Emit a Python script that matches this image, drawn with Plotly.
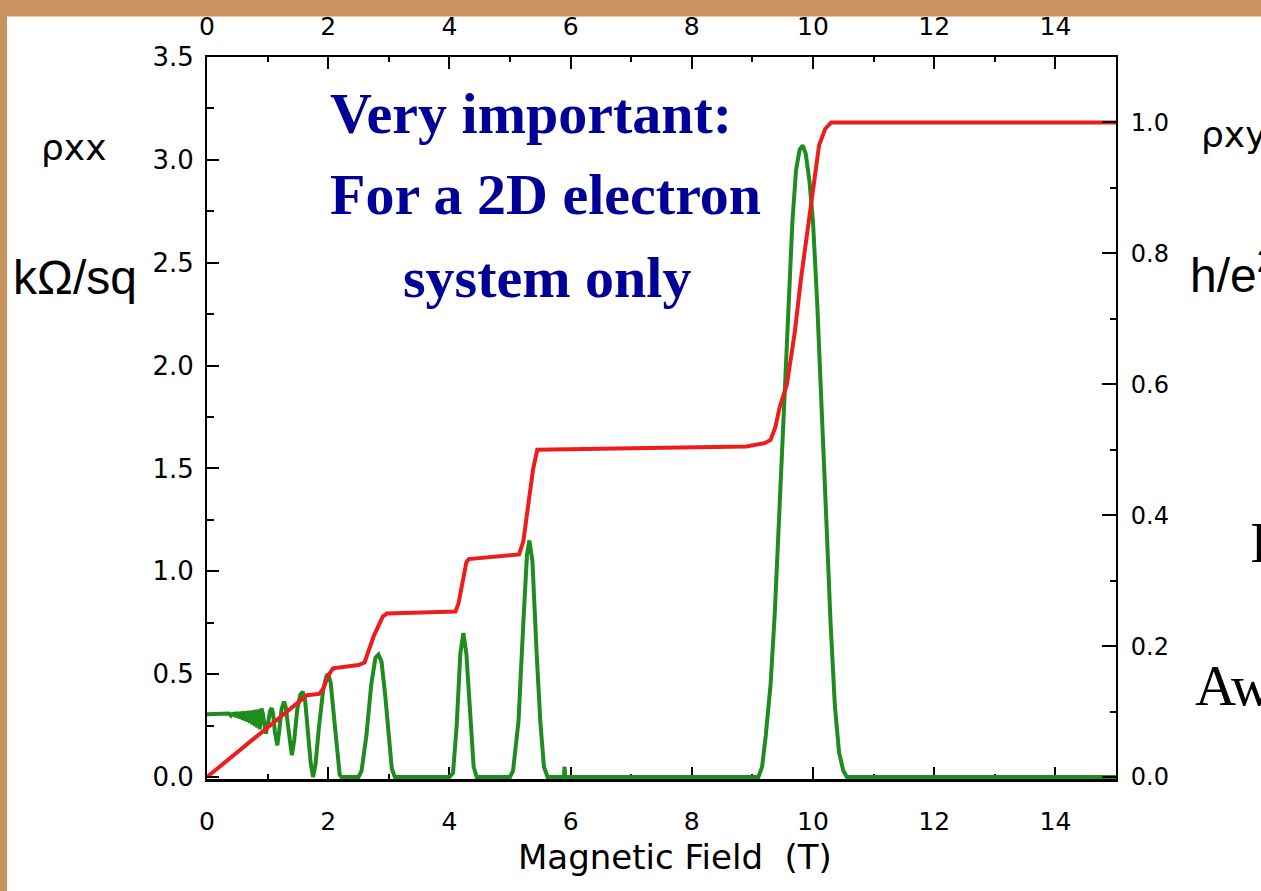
import plotly.graph_objects as go

# ---------------- data ----------------
# longitudinal resistivity rho_xx (kOhm/sq) vs magnetic field B (T)
b_xx = [0.00, 0.20, 0.33, 0.36, 0.39, 0.41, 0.43, 0.45, 0.47, 0.49, 0.51, 0.53, 0.55, 0.57, 0.59,
        0.61, 0.63, 0.65, 0.67, 0.69, 0.71, 0.73, 0.75, 0.77, 0.79, 0.81, 0.83, 0.85,
        0.87, 0.90, 0.92, 0.95, 0.97, 1.00, 1.04, 1.07, 1.09, 1.12, 1.16, 1.19, 1.23,
        1.27, 1.30, 1.35, 1.40, 1.44, 1.49, 1.54, 1.58, 1.62, 1.67, 1.71, 1.75, 1.79,
        1.85, 1.92, 1.97, 2.00, 2.04, 2.09, 2.14, 2.19, 2.22, 2.50, 2.55, 2.63, 2.71,
        2.78, 2.83, 2.88, 2.94, 3.00, 3.05, 3.10, 4.00, 4.06, 4.12, 4.18, 4.23, 4.28,
        4.34, 4.40, 4.45, 5.00, 5.05, 5.14, 5.22, 5.28, 5.32, 5.37, 5.44, 5.50, 5.56,
        5.62, 5.89, 5.90, 5.915, 5.93, 9.10, 9.16, 9.22, 9.30, 9.37, 9.45, 9.52, 9.59,
        9.66, 9.72, 9.78, 9.83, 9.88, 9.94, 10.00, 10.07, 10.14, 10.22, 10.29, 10.36,
        10.43, 10.50, 10.56, 15.00]
rho_xx = [0.305, 0.305, 0.305, 0.309, 0.300, 0.312, 0.296, 0.314, 0.292, 0.316, 0.288, 0.317, 0.284,
          0.318, 0.279, 0.319, 0.274, 0.320, 0.268, 0.322, 0.262, 0.323, 0.255, 0.325,
          0.248, 0.327, 0.240, 0.329, 0.232, 0.333, 0.310, 0.240, 0.210, 0.250, 0.320,
          0.335, 0.310, 0.220, 0.154, 0.220, 0.330, 0.366, 0.340, 0.220, 0.106, 0.180,
          0.330, 0.400, 0.414, 0.370, 0.220, 0.070, 0.000, 0.060, 0.250, 0.430, 0.490,
          0.500, 0.460, 0.300, 0.120, 0.010, 0.000, 0.000, 0.030, 0.200, 0.450, 0.580,
          0.595, 0.560, 0.400, 0.180, 0.040, 0.000, 0.000, 0.020, 0.250, 0.600, 0.700,
          0.600, 0.300, 0.050, 0.000, 0.000, 0.030, 0.270, 0.750, 1.080, 1.150, 1.050,
          0.600, 0.270, 0.050, 0.000, 0.000, 0.050, -0.030, 0.000, 0.000, 0.050, 0.200,
          0.450, 0.800, 1.300, 1.750, 2.200, 2.700, 2.950, 3.050, 3.070, 3.030, 2.900,
          2.700, 2.300, 1.850, 1.250, 0.750, 0.350, 0.120, 0.030, 0.000, 0.000]

# Hall resistivity rho_xy (h/e^2) vs magnetic field B (T)
b_xy = [0.00, 0.50, 1.00, 1.30, 1.50, 1.60, 1.65, 1.85, 1.92, 2.00, 2.08, 2.50, 2.60,
        2.75, 2.90, 2.97, 4.10, 4.15, 4.22, 4.28, 4.32, 5.15, 5.22, 5.30, 5.38, 5.45,
        8.90, 9.20, 9.30, 9.38, 9.45, 9.57, 9.70, 9.80, 9.90, 10.00, 10.10, 10.20,
        10.30, 15.00]
rho_xy = [0.000, 0.038, 0.077, 0.099, 0.115, 0.122, 0.125, 0.127, 0.135, 0.155, 0.166,
          0.171, 0.175, 0.215, 0.245, 0.250, 0.253, 0.265, 0.300, 0.328, 0.333, 0.340,
          0.360, 0.420, 0.470, 0.500, 0.505, 0.510, 0.515, 0.535, 0.565, 0.600, 0.680,
          0.760, 0.830, 0.900, 0.965, 0.990, 1.000, 1.000]

x_tickvals = [0, 2, 4, 6, 8, 10, 12, 14]
x_ticktext = ["0", "2", "4", "6", "8", "10", "12", "14"]
yl_tickvals = [0.0, 0.5, 1.0, 1.5, 2.0, 2.5, 3.0, 3.5]
yl_ticktext = ["0.0", "0.5", "1.0", "1.5", "2.0", "2.5", "3.0", "3.5"]
yr_tickvals = [0.0, 0.2, 0.4, 0.6, 0.8, 1.0]
yr_ticktext = ["0.0", "0.2", "0.4", "0.6", "0.8", "1.0"]

# ---------------- geometry ----------------
W, H = 1261, 891
L, R, T, B = 207, 1116, 49, 779
zero_off = 2.0 / (B - T)
yl_range = [-3.5 * zero_off / (1 - zero_off), 3.5]
yr_range = [-1.1 * zero_off / (1 - zero_off), 1.1]


def px(x):
    return (x - L) / (R - L)


def py(y):
    return (B - y) / (B - T)


TICKFONT = "DejaVu Sans"
GREEN = "#1f8c1f"
RED = "#ee1c1c"
BLUE = "#000099"

fig = go.Figure()
fig.add_trace(go.Scatter(x=b_xx, y=rho_xx, mode="lines", xaxis="x", yaxis="y",
                         line=dict(color=GREEN, width=4), showlegend=False,
                         hoverinfo="skip"))
fig.add_trace(go.Scatter(x=b_xy, y=rho_xy, mode="lines", xaxis="x2", yaxis="y2",
                         line=dict(color=RED, width=4), showlegend=False,
                         hoverinfo="skip"))

axis_common = dict(showgrid=False, zeroline=False, showline=True, linecolor="black",
                   ticks="inside", tickcolor="black", tickwidth=2, fixedrange=True)

fig.update_layout(
    width=W, height=H,
    margin=dict(l=L, r=W - R, t=T, b=H - B, pad=0),
    paper_bgcolor="#c8935e",
    plot_bgcolor="white",
    xaxis=dict(range=[0, 15], tickvals=x_tickvals, ticktext=x_ticktext, ticklen=12,
               linewidth=3, layer="below traces", ticklabelstandoff=18,
               tickfont=dict(family=TICKFONT, size=25, color="black"),
               minor=dict(dtick=1, tick0=0, ticklen=5, tickwidth=2, ticks="inside",
                          tickcolor="black"),
               **axis_common),
    xaxis2=dict(range=[0, 15], tickvals=x_tickvals, ticktext=x_ticktext, ticklen=12,
                linewidth=2, side="top", overlaying="x", anchor="y2",
                ticklabelstandoff=10,
                tickfont=dict(family=TICKFONT, size=25, color="black"),
                minor=dict(dtick=1, tick0=0, ticklen=5, tickwidth=2, ticks="inside",
                           tickcolor="black"),
                **axis_common),
    yaxis=dict(range=yl_range, tickvals=yl_tickvals, ticktext=yl_ticktext, ticklen=12,
               linewidth=2, ticklabelstandoff=6,
               tickfont=dict(family=TICKFONT, size=26, color="black"),
               minor=dict(dtick=0.25, tick0=0, ticklen=7, tickwidth=2, ticks="inside",
                          tickcolor="black"),
               **axis_common),
    yaxis2=dict(range=yr_range, tickvals=yr_tickvals, ticktext=yr_ticktext, ticklen=14,
                linewidth=2, side="right", overlaying="y", anchor="x",
                ticklabelstandoff=8,
                tickfont=dict(family=TICKFONT, size=24, color="black"),
                minor=dict(dtick=0.1, tick0=0, ticklen=6, tickwidth=2, ticks="inside",
                           tickcolor="black"),
                **axis_common),
)

# white slide area inside the textured border
fig.add_shape(type="rect", xref="paper", yref="paper", layer="below",
              x0=px(7), x1=px(W + 40), y0=py(H + 40), y1=py(8),
              fillcolor="white", line=dict(width=0))


def label(text, x, y, size, family, color="black", xanchor="center", bold=False):
    if bold:
        text = "<b>" + text + "</b>"
    fig.add_annotation(text=text, x=px(x), y=py(y), xref="paper", yref="paper",
                       xanchor=xanchor, yanchor="middle", showarrow=False,
                       font=dict(size=size, family=family, color=color))


# axis title and side labels
label("Magnetic Field\u00a0\u00a0(T)", 675, 858, 34, "DejaVu Sans")
label("\u03c1xx", 39, 141, 36, "DejaVu Sans", xanchor="left")
label("k\u03a9/sq", 11, 272, 48, "Liberation Sans", xanchor="left")
label("\u03c1xy", 1199, 127, 36, "DejaVu Sans", xanchor="left")
label("h/e<sup>2</sup>", 1188, 266, 48, "Liberation Sans", xanchor="left")

# slide text
label("Very important:", 531, 106, 58, "Liberation Serif", color=BLUE, bold=True)
label("For a 2D electron", 545, 188, 58, "Liberation Serif", color=BLUE, bold=True)
label("system only", 547, 272, 58, "Liberation Serif", color=BLUE, bold=True)
label("I", 1248, 540, 57, "Liberation Serif", xanchor="left")
label("Aw", 1193, 684, 57, "Liberation Serif", xanchor="left")

fig.write_html(
    "out.html",
    config={"displayModeBar": False},
    post_script="document.body.style.margin='0';document.body.style.overflow='hidden';",
)
